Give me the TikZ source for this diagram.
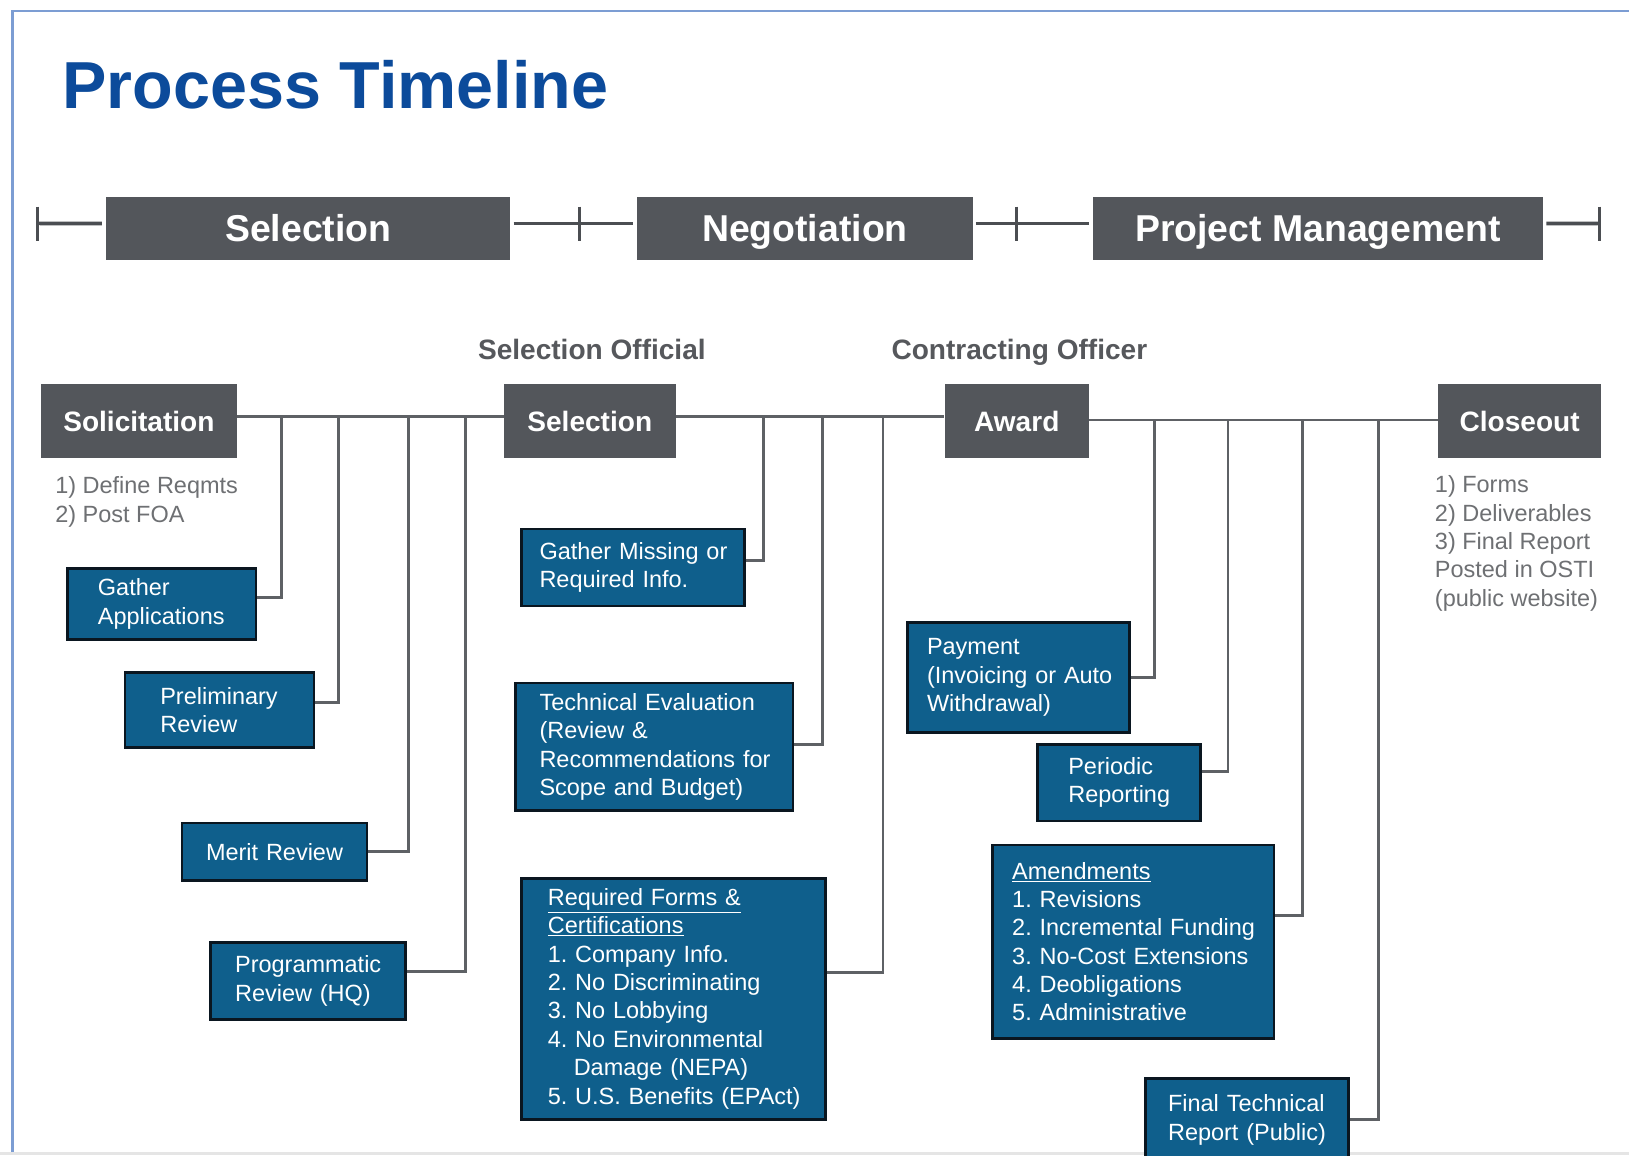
\documentclass[tikz,border=0pt]{standalone}
\usepackage{fontspec}
\setmainfont{Liberation Sans}
\definecolor{titleblue}{HTML}{0C4B9B}
\definecolor{boxgray}{HTML}{53565B}
\definecolor{boxblue}{HTML}{0F5F8C}
\definecolor{boxedge}{HTML}{0A1620}
\definecolor{linegray}{HTML}{5E6165}
\definecolor{tlgray}{HTML}{4B4E52}
\definecolor{labelgray}{HTML}{56585C}
\definecolor{notegray}{HTML}{6E7073}
\definecolor{framec}{HTML}{7C9DD3}
\hyphenpenalty=10000
\exhyphenpenalty=10000
\begin{document}
\hyphenpenalty=10000
\exhyphenpenalty=10000
\begin{tikzpicture}[x=1pt,y=-1pt,
  phase/.style={fill=boxgray, text=white, font=\fontsize{36}{40}\selectfont\bfseries,
    anchor=north west, inner sep=0pt, minimum height=61pt, text height=25.8pt, text depth=0pt},
  stage/.style={fill=boxgray, text=white, font=\fontsize{27}{30}\selectfont\bfseries,
    anchor=north west, inner sep=0pt, minimum height=72pt, text height=19.4pt, text depth=0pt},
  bluebox/.style={fill=boxblue, draw=boxedge, line width=2.6pt, text=white,
    font=\fontsize{22.6}{27.3}\selectfont, anchor=north west, align=left, inner ysep=0pt},
  conn/.style={draw=linegray, line width=2.6pt},
  tl/.style={draw=tlgray, line width=3.6pt},
  tickmark/.style={draw=tlgray, line width=3pt},
  lbl/.style={text=labelgray, font=\fontsize{27}{30}\selectfont\bfseries, anchor=base west, inner sep=0pt},
  note/.style={text=notegray, font=\fontsize{22.6}{27.3}\selectfont, anchor=west, align=left, inner sep=0pt}
]
\useasboundingbox (0,0) rectangle (1568,1112);
\fill[white] (0,0) rectangle (1568,1112);
\fill[black!10] (0,1109) rectangle (1568,1112);

% frame
\coordinate (fa) at (12,1109);
\coordinate (fb) at (12,11);
\coordinate (fc) at (1568,11);
\draw[framec, line width=2pt] (fa) -- (fb) -- (fc);

% title
\node[text=titleblue, font=\fontsize{64}{70}\selectfont\bfseries, anchor=base west, inner sep=0pt]
  (title) at (60,104) {Process Timeline};

% phases
\node[phase, minimum width=389pt] (ph1) at (102,189) {Selection};
\node[phase, minimum width=323pt] (ph2) at (613,189) {Negotiation};
\node[phase, minimum width=433pt] (ph3) at (1052,189) {Project Management};

\coordinate (t0) at (36,215);
\coordinate (t1) at (558,215);
\coordinate (t2) at (978,215);
\coordinate (t3) at (1540,215);
\draw[tl, shorten >=4pt] (t0) -- ([yshift=4.5pt]ph1.west);
\draw[tl, shorten <=3pt, shorten >=4pt] ([yshift=4.5pt]ph1.east) -- ([yshift=4.5pt]ph2.west);
\draw[tl, shorten <=3pt, shorten >=4pt] ([yshift=4.5pt]ph2.east) -- ([yshift=4.5pt]ph3.west);
\draw[tl, shorten <=3pt] ([yshift=4.5pt]ph3.east) -- (t3);
\draw[tickmark] ([yshift=16pt]t0) -- ([yshift=-17pt]t0);
\draw[tickmark] ([yshift=16pt]t1) -- ([yshift=-17pt]t1);
\draw[tickmark] ([yshift=16pt]t2) -- ([yshift=-17pt]t2);
\draw[tickmark] ([yshift=16pt]t3) -- ([yshift=-17pt]t3);

% role labels
\node[lbl] (selo) at (460,346) {Selection Official};
\node[lbl] (conto) at (858,346) {Contracting Officer};

% stages
\node[stage, minimum width=189pt] (sol) at (39,369) {Solicitation};
\node[stage, minimum width=165pt] (sel) at (485,369) {Selection};
\node[stage, minimum width=139pt] (aw) at (909,369) {Award};
\node[stage, minimum width=157pt] (co) at (1384,369) {Closeout};

\draw[conn] ([yshift=4pt]sol.east) -- ([yshift=4pt]sel.west);
\draw[conn] ([yshift=4pt]sel.east) -- ([yshift=4pt]aw.west);
\draw[conn] ([yshift=1pt]aw.east) -- ([yshift=1pt]co.west);

% notes
\node[note] (solnote) at (53,483) {1) Define Reqmts\\2) Post FOA};
\node[note] (conote) at (1381,523) {1) Forms\\2) Deliverables\\3) Final Report\\Posted in OSTI\\(public website)};

% blue boxes
\node[bluebox, inner xsep=29pt, text width=123pt, minimum height=68pt] (ga) at (64,546) {Gather\\Applications};
\node[bluebox, inner xsep=34pt, text width=114pt, minimum height=72pt] (pr) at (119,646) {Preliminary\\Review};
\node[bluebox, inner xsep=23pt, text width=132pt, minimum height=55pt] (mr) at (174,791) {Merit~Review};
\node[bluebox, inner xsep=24pt, text width=140pt, minimum height=74pt] (pg) at (201,906) {Programmatic\\Review~(HQ)};
\node[bluebox, inner xsep=17pt, text width=180pt, minimum height=74pt] (gm) at (501,508) {Gather~Missing~or\\Required~Info.};
\node[bluebox, inner xsep=23pt, text width=221pt, minimum height=123pt] (te) at (495,656) {Technical~Evaluation\\(Review~\&\\Recommendations~for\\Scope~and~Budget)};
\node[bluebox, inner xsep=25pt, text width=242pt, minimum height=232pt] (rf) at (501,844) {\underline{Required~Forms~\&}\\\underline{Certifications}\\1.~Company~Info.\\2.~No~Discriminating\\3.~No~Lobbying\\4.~No~Environmental\\\hspace*{25pt}Damage~(NEPA)\\5.~U.S.~Benefits~(EPAct)};
\node[bluebox, inner xsep=19pt, text width=176pt, minimum height=106pt] (pay) at (872,598) {Payment\\(Invoicing~or~Auto\\Withdrawal)};
\node[bluebox, inner xsep=30pt, text width=97pt, minimum height=74pt] (per) at (997,715) {Periodic\\Reporting};
\node[bluebox, inner xsep=19pt, text width=233pt, minimum height=186pt] (am) at (954,812) {\underline{Amendments}\\1.~Revisions\\2.~Incremental~Funding\\3.~No-Cost~Extensions\\4.~Deobligations\\5.~Administrative};
\node[bluebox, inner xsep=22pt, text width=152pt, minimum height=79pt] (ft) at (1101,1037) {Final~Technical\\Report~(Public)};

% bus points
\coordinate (b1) at (271,401);
\coordinate (b2) at (326,401);
\coordinate (b3) at (393,401);
\coordinate (b4) at (448,401);
\coordinate (b5) at (735,401);
\coordinate (b6) at (792,401);
\coordinate (b7) at (850,401);
\coordinate (b8) at (1111,404);
\coordinate (b9) at (1182,404);
\coordinate (b10) at (1254,404);
\coordinate (b11) at (1327,404);

\draw[conn] ([yshift=6pt]ga.east) -| (b1);
\draw[conn] ([yshift=7pt]pr.east) -| (b2);
\draw[conn] (mr.east) -| (b3);
\draw[conn] ([yshift=9pt]pg.east) -| (b4);
\draw[conn] ([yshift=7pt]gm.east) -| (b5);
\draw[conn] ([yshift=2pt]te.east) -| (b6);
\draw[conn] ([yshift=25pt]rf.east) -| (b7);
\draw[conn] (pay.east) -| (b8);
\draw[conn] ([yshift=11pt]per.east) -| (b9);
\draw[conn] ([yshift=25pt]am.east) -| (b10);
\draw[conn] (ft.east) -| (b11);
\end{tikzpicture}
\end{document}
